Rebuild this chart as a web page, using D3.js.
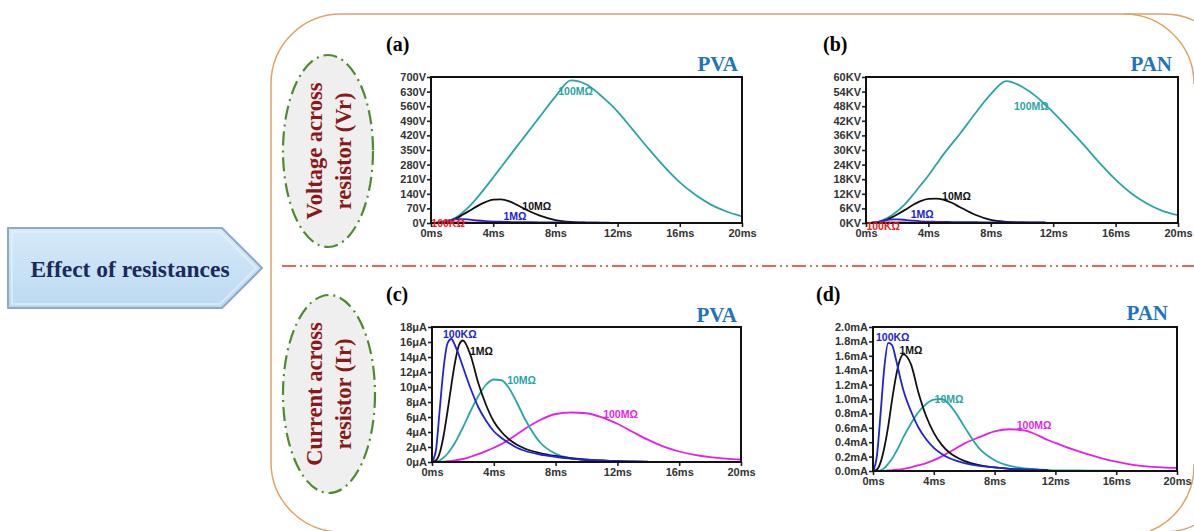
<!DOCTYPE html>
<html>
<head>
<meta charset="utf-8">
<script src="https://cdn.jsdelivr.net/npm/d3@7"></script>
<style>
  body { margin: 0; background: #fff; }
  svg { display: block; }
</style>
</head>
<body>
<div id="chart"></div>
<script>
// time grid (ms) shared by every trace
var T = [0,0.25,0.5,0.75,1,1.25,1.5,1.75,2,2.5,3,3.5,4,4.5,5,5.5,6,7,8,9,10,11,11.5,12,13,14,15,16,17,18,19,20];

var xTicks = [0,4,8,12,16,20];
var xTickLabels = ["0ms","4ms","8ms","12ms","16ms","20ms"];

// (a) PVA voltage, V
var aTicks = [0,70,140,210,280,350,420,490,560,630,700];
var aLabels = ["0V","70V","140V","210V","280V","350V","420V","490V","560V","630V","700V"];
var a100M = [0,0,1,3,8,14,22,34,48,82,124,170,218,267,316,365,413,510,606,684,664,606,572,534,445,355,270,195,135,88,55,32];
var a10M  = [0,0,1,2,5,10,18,27,38,60,82,100,112,113,105,88,68,35,14,5,2,1,0.5];
var a1M   = [0,1,3,6,10,14,17,19,19,16,12,9,7,6,5,4,4,3,3,2,2,2,2];
var a100K = [0,1,2,3,3,3,3,3,3,2,2,2,1,1,1];

// (b) PAN voltage, KV
var bTicks = [0,6,12,18,24,30,36,42,48,54,60];
var bLabels = ["0KV","6KV","12KV","18KV","24KV","30KV","36KV","42KV","48KV","54KV","60KV"];
var b100M = [0,0,0.1,0.3,1.0,1.7,2.6,3.6,4.8,7.8,11.5,15.5,19.5,24,28.5,32.5,36.5,45,53,58.3,56,51.5,48.5,45.5,38.8,31.8,24.5,17.8,12.2,8,5,3.2];
var b10M  = [0,0,0.1,0.3,0.7,1.2,1.9,2.6,3.5,5.4,7.4,9.0,9.9,10,9.5,8.3,6.6,3.4,1.3,0.5,0.2,0.1,0.1];
var b1M   = [0,0.05,0.2,0.45,0.8,1.1,1.35,1.5,1.5,1.3,0.95,0.7,0.55,0.5,0.45,0.4,0.35,0.3,0.25,0.2,0.2,0.2,0.2];
var b100K = [0,0.05,0.1,0.15,0.2,0.2,0.2,0.2,0.2,0.2,0.15,0.15,0.1,0.1,0.1];

// (c) PVA current, uA
var cTicks = [0,2,4,6,8,10,12,14,16,18];
var cLabels = ["0μA","2μA","4μA","6μA","8μA","10μA","12μA","14μA","16μA","18μA"];
var c100K = [0,1.5,7,12.5,15.8,16.4,15.5,14.2,12.7,9.8,7.3,5.5,4.1,3.2,2.5,1.9,1.5,1.0,0.7,0.45,0.3,0.2,0.15,0.1,0.07,0.05];
var c1M   = [0,0.2,1.2,3.5,6.7,10.2,13.4,15.6,16.2,14.2,10.5,7.6,5.4,4,3,2.3,1.8,1.2,0.8,0.5,0.3,0.2,0.15,0.1,0.05,0.03];
var c10M  = [0,0.05,0.2,0.6,1.1,1.8,2.6,3.6,4.6,6.8,8.8,10.3,11,10.9,9.8,7.9,5.8,2.6,1.1,0.5,0.25,0.12,0.09,0.07,0.05,0.03,0.02,0.01,0.01,0,0,0];
var c100M = [0,0,0.02,0.05,0.1,0.15,0.22,0.3,0.4,0.7,1.05,1.45,1.9,2.4,3.0,3.7,4.4,5.6,6.4,6.6,6.5,5.95,5.55,5.1,4.0,2.95,2.05,1.4,0.95,0.65,0.45,0.33];

// (d) PAN current, mA
var dTicks = [0,0.2,0.4,0.6,0.8,1.0,1.2,1.4,1.6,1.8,2.0];
var dLabels = ["0.0mA","0.2mA","0.4mA","0.6mA","0.8mA","1.0mA","1.2mA","1.4mA","1.6mA","1.8mA","2.0mA"];
var d100K = [0,0.2,0.8,1.45,1.78,1.75,1.56,1.33,1.12,0.83,0.6,0.44,0.32,0.24,0.18,0.14,0.11,0.07,0.05,0.03,0.02,0.015,0.01];
var d1M   = [0,0.02,0.12,0.33,0.62,0.98,1.3,1.53,1.62,1.48,1.08,0.76,0.53,0.37,0.26,0.19,0.14,0.08,0.05,0.03,0.02,0.015,0.01];
var d10M  = [0,0,0.01,0.04,0.1,0.17,0.26,0.36,0.47,0.66,0.82,0.93,0.99,1.0,0.93,0.79,0.62,0.31,0.15,0.07,0.035,0.02,0.015,0.01,0.008,0.006,0.005,0.005];
var d100M = [0,0,0,0,0.01,0.01,0.02,0.02,0.03,0.05,0.08,0.11,0.15,0.2,0.26,0.32,0.38,0.47,0.55,0.58,0.56,0.48,0.43,0.39,0.31,0.24,0.18,0.13,0.09,0.065,0.05,0.04];

var TEAL = "#2aa5a5", BLACK = "#111111", BLUE = "#2222d6", RED = "#f01c1c", MAG = "#e61fe6";

var W = 1194, H = 531;
var svg = d3.select("#chart").append("svg")
    .attr("width", W)
    .attr("height", H);

var defs = svg.append("defs");
var grad = defs.append("linearGradient").attr("id", "arrowFill")
    .attr("x1", 0).attr("y1", 0).attr("x2", 0).attr("y2", 1);
grad.append("stop").attr("offset", "0%").attr("stop-color", "#d6eaf9");
grad.append("stop").attr("offset", "100%").attr("stop-color", "#bcd9f1");

// outer rounded frame
svg.append("rect")
    .attr("x", 271).attr("y", 14)
    .attr("width", 963).attr("height", 518)
    .attr("rx", 70).attr("ry", 70)
    .attr("fill", "none")
    .attr("stroke", "#dca468")
    .attr("stroke-width", 1.5);
// right edge is cut by the picture; redraw right arcs at x=1194
svg.append("rect")
    .attr("x", 1194).attr("y", 0).attr("width", 60).attr("height", H).attr("fill", "#fff");
svg.append("path")
    .attr("d", "M1124,14 A70,70 0 0 1 1194,84")
    .attr("fill", "none").attr("stroke", "#dca468").attr("stroke-width", 1.5);
svg.append("path")
    .attr("d", "M1194,464 A70,70 0 0 1 1150,531")
    .attr("fill", "none").attr("stroke", "#dca468").attr("stroke-width", 1.5);

// arrow
svg.append("polygon")
    .attr("points", "8,228 222,228 262,268 222,308 8,308")
    .attr("fill", "url(#arrowFill)")
    .attr("stroke", "#8ea9c4")
    .attr("stroke-width", 2);
svg.append("polygon")
    .attr("points", "12,232 220,232 256,268 220,304 12,304")
    .attr("fill", "none")
    .attr("stroke", "#e6f2fc")
    .attr("stroke-width", 1.5)
    .attr("opacity", 0.8);
svg.append("text")
    .attr("x", 130).attr("y", 277)
    .attr("text-anchor", "middle")
    .attr("font-family", "Liberation Serif, Times New Roman, serif")
    .attr("font-weight", "bold")
    .attr("font-size", "23.5px")
    .attr("fill", "#1b2a5c")
    .text("Effect of resistances");

// dash-dot divider
svg.append("line")
    .attr("x1", 282).attr("x2", 1194)
    .attr("y1", 266).attr("y2", 266)
    .attr("stroke", "#e3322a")
    .attr("stroke-width", 1.6)
    .style("stroke-dasharray", "14,4,2,4,2,4");

// ellipses with rotated text
function bubble(cx, cy, rx, ry, l1, l2) {
    svg.append("ellipse")
        .attr("cx", cx).attr("cy", cy).attr("rx", rx).attr("ry", ry)
        .attr("fill", "#efefef")
        .attr("stroke", "#4f8b2e")
        .attr("stroke-width", 2.2)
        .style("stroke-dasharray", "14,5,2,5");
    [[l1, 322], [l2, 351]].forEach(function(l) {
        svg.append("text")
            .attr("transform", "translate(" + l[1] + "," + cy + ") rotate(-90)")
            .attr("text-anchor", "middle")
            .attr("font-family", "Liberation Serif, Times New Roman, serif")
            .attr("font-weight", "bold")
            .attr("font-size", "22.5px")
            .attr("fill", "#8a1818")
            .text(l[0]);
    });
}
bubble(328, 151, 45, 96, "Voltage across", "resistor (Vr)");
bubble(329, 394, 46, 99, "Current across", "resistor (Ir)");

var clipN = 0;
function drawPanel(p) {
    var g = svg.append("g");
    var x = d3.scaleLinear().domain([0, 20]).range([p.x0, p.x1]);
    var y = d3.scaleLinear().domain([0, p.yMax]).range([p.y1, p.y0]);

    g.append("text")
        .attr("x", p.tagX).attr("y", p.tagY)
        .attr("font-family", "Liberation Serif, Times New Roman, serif")
        .attr("font-weight", "bold").attr("font-size", "20px")
        .attr("fill", "#000")
        .text(p.tag);
    g.append("text")
        .attr("x", p.titleX).attr("y", p.titleY)
        .attr("text-anchor", "end")
        .attr("font-family", "Liberation Serif, Times New Roman, serif")
        .attr("font-weight", "bold").attr("font-size", "21px")
        .attr("fill", "#1f74c0")
        .text(p.title);

    var yAx = g.append("g")
        .attr("transform", "translate(" + p.x0 + ",0)")
        .call(d3.axisLeft(y).tickValues(p.yTicks)
            .tickFormat(function(d, i) { return p.yLabels[i]; })
            .tickSize(4).tickPadding(1));
    var xAx = g.append("g")
        .attr("transform", "translate(0," + p.y1 + ")")
        .call(d3.axisBottom(x).tickValues(xTicks)
            .tickFormat(function(d, i) { return xTickLabels[i]; })
            .tickSize(4).tickPadding(2));
    [yAx, xAx].forEach(function(a) {
        a.select(".domain").remove();
        a.selectAll(".tick line").attr("stroke", "#222").attr("stroke-width", 1.6);
        a.selectAll("text")
            .attr("font-family", "Liberation Sans, Arial, sans-serif")
            .attr("font-weight", "bold")
            .attr("font-size", "11px")
            .attr("fill", "#333");
    });

    clipN++;
    defs.append("clipPath").attr("id", "clip" + clipN)
        .append("rect")
        .attr("x", p.x0).attr("y", p.y0)
        .attr("width", p.x1 - p.x0).attr("height", p.y1 - p.y0);

    var line = d3.line()
        .defined(function(d) { return d[1] != null; })
        .x(function(d) { return x(d[0]); })
        .y(function(d) { return y(d[1]); })
        .curve(d3.curveMonotoneX);

    p.series.forEach(function(s) {
        var pts = T.map(function(t, i) { return [t, i < s.vals.length ? s.vals[i] : null]; });
        g.append("path")
            .datum(pts)
            .attr("clip-path", "url(#clip" + clipN + ")")
            .attr("fill", "none")
            .attr("stroke", s.color)
            .attr("stroke-width", 1.8)
            .attr("d", line);
    });

    g.append("rect")
        .attr("x", p.x0).attr("y", p.y0)
        .attr("width", p.x1 - p.x0).attr("height", p.y1 - p.y0)
        .attr("fill", "none")
        .attr("stroke", "#111")
        .attr("stroke-width", 2);

    p.notes.forEach(function(n) {
        g.append("text")
            .attr("x", x(n.t)).attr("y", y(n.v))
            .attr("dy", "0.35em")
            .attr("text-anchor", "middle")
            .attr("font-family", "Liberation Sans, Arial, sans-serif")
            .attr("font-weight", "bold")
            .attr("font-size", "10.5px")
            .attr("fill", n.color)
            .text(n.text);
    });
}

drawPanel({
    tag: "(a)", tagX: 386, tagY: 51, title: "PVA", titleX: 738, titleY: 71,
    x0: 431, x1: 742, y0: 77, y1: 223, yMax: 700, yTicks: aTicks, yLabels: aLabels,
    series: [
        { vals: a100M, color: TEAL },
        { vals: a10M, color: BLACK },
        { vals: a1M, color: BLUE },
        { vals: a100K, color: RED }
    ],
    notes: [
        { text: "100MΩ", t: 9.3, v: 632, color: TEAL },
        { text: "10MΩ", t: 6.8, v: 78, color: BLACK },
        { text: "1MΩ", t: 5.4, v: 34, color: BLUE },
        { text: "100KΩ", t: 1.1, v: 0, color: RED }
    ]
});

drawPanel({
    tag: "(b)", tagX: 823, tagY: 51, title: "PAN", titleX: 1172, titleY: 71,
    x0: 866, x1: 1178, y0: 77, y1: 223, yMax: 60, yTicks: bTicks, yLabels: bLabels,
    series: [
        { vals: b100M, color: TEAL },
        { vals: b10M, color: BLACK },
        { vals: b1M, color: BLUE },
        { vals: b100K, color: RED }
    ],
    notes: [
        { text: "100MΩ", t: 10.6, v: 48, color: TEAL },
        { text: "10MΩ", t: 5.8, v: 11, color: BLACK },
        { text: "1MΩ", t: 3.6, v: 3.6, color: BLUE },
        { text: "100KΩ", t: 1.1, v: -1.3, color: RED }
    ]
});

drawPanel({
    tag: "(c)", tagX: 386, tagY: 301, title: "PVA", titleX: 737, titleY: 322,
    x0: 432, x1: 741, y0: 327, y1: 462, yMax: 18, yTicks: cTicks, yLabels: cLabels,
    series: [
        { vals: c100M, color: MAG },
        { vals: c10M, color: TEAL },
        { vals: c1M, color: BLACK },
        { vals: c100K, color: BLUE }
    ],
    notes: [
        { text: "100KΩ", t: 1.8, v: 17, color: BLUE },
        { text: "1MΩ", t: 3.2, v: 14.8, color: BLACK },
        { text: "10MΩ", t: 5.8, v: 10.9, color: TEAL },
        { text: "100MΩ", t: 12.2, v: 6.4, color: MAG }
    ]
});

drawPanel({
    tag: "(d)", tagX: 816, tagY: 301, title: "PAN", titleX: 1168, titleY: 320,
    x0: 873, x1: 1177, y0: 327, y1: 471, yMax: 2.0, yTicks: dTicks, yLabels: dLabels,
    series: [
        { vals: d100M, color: MAG },
        { vals: d10M, color: TEAL },
        { vals: d1M, color: BLACK },
        { vals: d100K, color: BLUE }
    ],
    notes: [
        { text: "100KΩ", t: 1.3, v: 1.86, color: BLUE },
        { text: "1MΩ", t: 2.5, v: 1.67, color: BLACK },
        { text: "10MΩ", t: 5.0, v: 1.0, color: TEAL },
        { text: "100MΩ", t: 10.6, v: 0.64, color: MAG }
    ]
});
</script>
</body>
</html>
